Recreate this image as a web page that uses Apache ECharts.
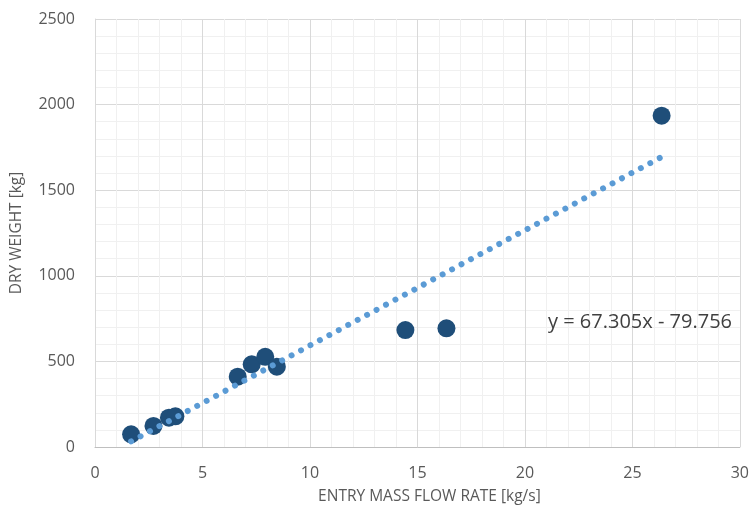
<!DOCTYPE html>
<html><head><meta charset="utf-8">
<script src="https://cdn.jsdelivr.net/npm/echarts@6/dist/echarts.min.js"></script>
<style>html,body{margin:0;padding:0;background:#fff}#c{width:752px;height:514px}</style>
</head><body><div id="c"></div>
<script>
const flowRate = [1.68, 2.72, 3.44, 3.74, 6.64, 7.29, 7.92, 8.46, 14.44, 16.35, 26.36];
const dryWeight = [74, 123, 171, 179, 411, 483, 527, 469, 683, 693, 1935];
const trendX = [1.68, 26.36];
const trendY = [33, 1694];
const equationText = 'y = 67.305x - 79.756';
const xTicks = [0, 5, 10, 15, 20, 25, 30];
const yTicks = [0, 500, 1000, 1500, 2000, 2500];

const font = '"Open Sans", Arial, sans-serif';
const chart = echarts.init(document.getElementById('c'), null, {renderer: 'canvas'});
chart.setOption({
  animation: false,
  backgroundColor: '#fff',
  grid: {left: 95, right: 11, top: 19, bottom: 67},
  xAxis: {
    type: 'value', min: xTicks[0], max: xTicks[xTicks.length-1], interval: 5,
    name: 'ENTRY MASS FLOW RATE [kg/s]', nameLocation: 'middle', nameGap: 42,
    nameTextStyle: {color: '#595959', fontSize: 15.5, fontFamily: font, padding: [0, 0, 0, 24]},
    axisLine: {show: true, lineStyle: {color: '#BFBFBF', width: 1}},
    axisTick: {show: false},
    axisLabel: {color: '#595959', fontSize: 16, fontFamily: font, margin: 18, formatter: v => String(v)},
    splitLine: {show: true, lineStyle: {color: '#D9D9D9', width: 1}},
    minorTick: {show: false, splitNumber: 5},
    minorSplitLine: {show: true, lineStyle: {color: '#F0F0F0', width: 1}}
  },
  yAxis: {
    type: 'value', min: yTicks[0], max: yTicks[yTicks.length-1], interval: 500,
    name: 'DRY WEIGHT [kg]', nameLocation: 'middle', nameGap: 70, nameRotate: 90,
    nameTextStyle: {color: '#595959', fontSize: 15.5, fontFamily: font},
    axisLine: {show: true, lineStyle: {color: '#D9D9D9', width: 1}},
    axisTick: {show: false},
    axisLabel: {color: '#595959', fontSize: 16, fontFamily: font, margin: 20, formatter: v => String(v)},
    splitLine: {show: true, lineStyle: {color: '#D9D9D9', width: 1}},
    minorTick: {show: false, splitNumber: 5},
    minorSplitLine: {show: true, lineStyle: {color: '#F0F0F0', width: 1}}
  },
  series: [
    {
      type: 'scatter', symbol: 'circle', symbolSize: 18, z: 2,
      itemStyle: {color: '#1F4E79', opacity: 1},
      data: flowRate.map((x, i) => [x, dryWeight[i]])
    },
    {
      type: 'line', symbol: 'none', z: 3,
      lineStyle: {color: '#5B9BD5', width: 6, type: [0.01, 10.7], cap: 'round'},
      data: trendX.map((x, i) => [x, trendY[i]])
    }
  ],
  graphic: [{
    type: 'text', left: 548, top: 312, z: 100,
    style: {text: equationText, fill: '#404040', fontSize: 20, fontFamily: font}
  }]
});
</script></body></html>
